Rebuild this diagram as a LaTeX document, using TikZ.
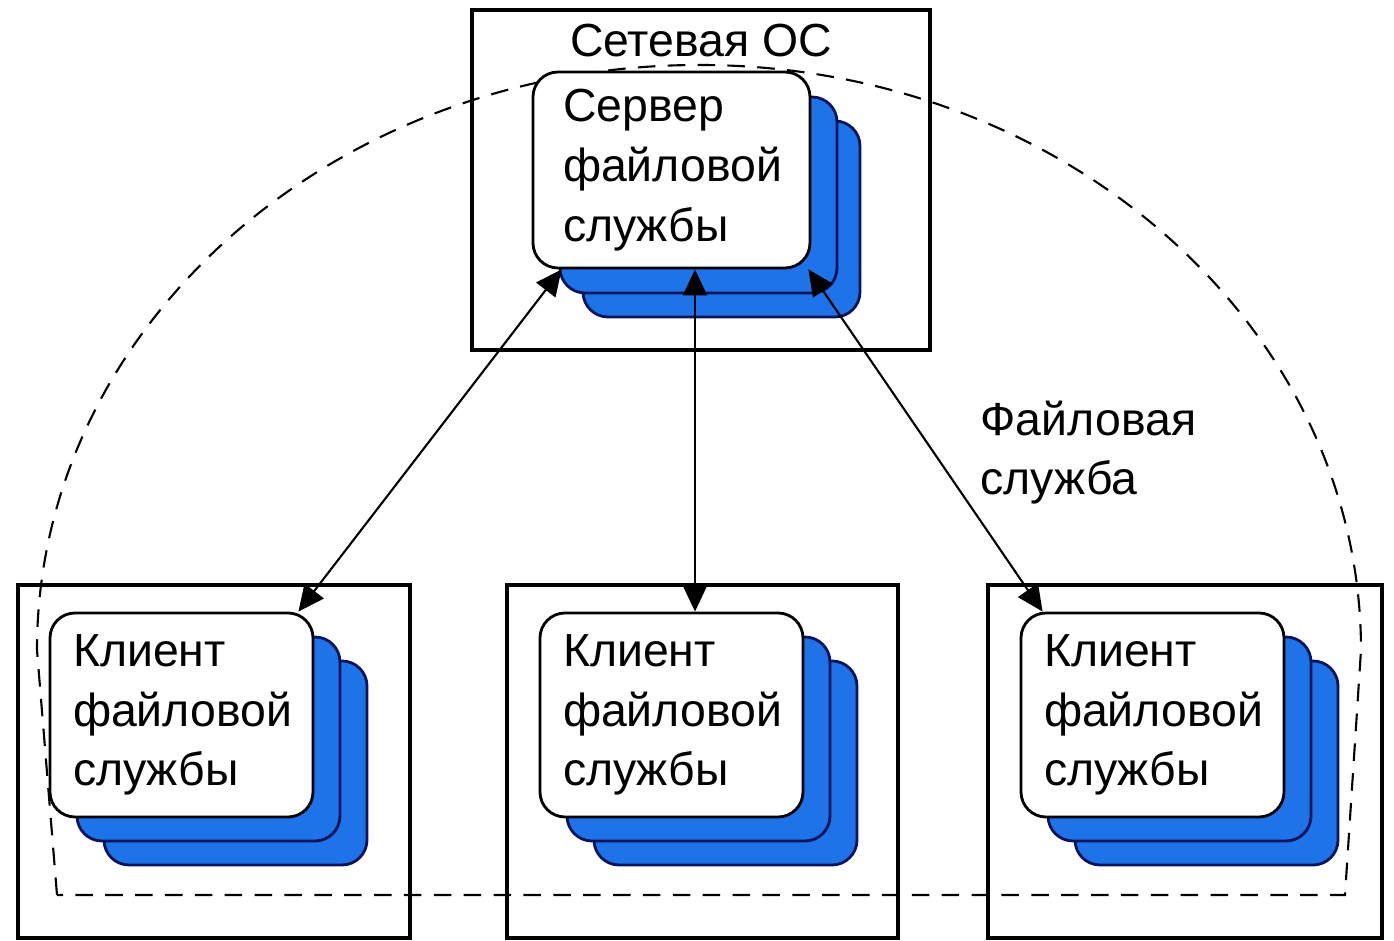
\documentclass[tikz,border=0pt]{standalone}
\usepackage{fontspec}
\setmainfont{Liberation Sans}
\usepackage{tikz}
\usetikzlibrary{arrows.meta, positioning}

\definecolor{sheetblue}{RGB}{30,115,232}
\definecolor{sheetedge}{RGB}{10,20,90}

\begin{document}
\begin{tikzpicture}[
        font=\fontsize{13.2}{17}\selectfont,
        frame/.style={rectangle, draw, line width=1pt, inner sep=0pt},
        card/.style={rectangle, draw, fill=white, rounded corners=2.5mm, line width=0.8pt,
                     minimum width=2.63cm, minimum height=2.04cm, text width=2.17cm,
                     align=left, inner sep=0pt},
        sheet/.style={rectangle, draw=sheetedge, fill=sheetblue, rounded corners=2.5mm,
                      line width=0.8pt, minimum width=2.63cm, minimum height=2.04cm},
        lbl/.style={inner sep=0pt, align=left},
        link/.style={{Triangle[length=2.6mm,width=2.4mm]}-{Triangle[length=2.6mm,width=2.4mm]},
                     line width=0.6pt},
    ]
        \useasboundingbox (0,0) rectangle (13.94,9.41);

        % dashed zone of the file service
        \draw[line width=0.6pt, dash pattern=on 5pt off 3.5pt]
            (0.57,0.46) -- (0.37,2.91) arc[start angle=180, end angle=0, x radius=6.62, y radius=5.85]
            -- (13.45,0.46) -- cycle;

        % outer frames
        \node[frame, minimum width=4.58cm, minimum height=3.40cm] (os) at (7.01,7.61) {};
        \node[frame, minimum width=3.92cm, minimum height=3.53cm] (host1) at (2.14,1.795) {};
        \node[frame, minimum width=3.91cm, minimum height=3.53cm] (host2) at (7.025,1.795) {};
        \node[frame, minimum width=3.94cm, minimum height=3.53cm] (host3) at (11.85,1.795) {};
        \node[lbl, below=0.15cm of os.north] (oslbl) {Сетевая ОС};

        % server stack
        \node[sheet, minimum width=2.77cm, minimum height=1.96cm] at (6.715+0.50,7.71-0.49) {};
        \node[sheet, minimum width=2.77cm, minimum height=1.96cm] at (6.715+0.27,7.71-0.25) {};
        \node[card, minimum width=2.77cm, minimum height=1.96cm] (srv) at (6.715,7.71) {Сервер\\файловой\\службы};

        % client stacks
        \foreach \nm/\x/\y in {cli1/1.815/2.26, cli2/6.715/2.26, cli3/11.525/2.26} {
            \node[sheet] at (\x+0.54,\y-0.48) {};
            \node[sheet] at (\x+0.27,\y-0.24) {};
            \node[card] (\nm) at (\x,\y) {Клиент\\файловой\\службы};
        }

        \node[lbl, anchor=north west] (svc) at (9.80,5.41) {Файловая\\служба};

        \draw[link] ([xshift=3mm]srv.south west) -- ([xshift=-1.6mm]cli1.north east);
        \draw[link] ([xshift=2.35mm]srv.south) -- ([xshift=2.35mm]cli2.north);
        \draw[link] ([xshift=-0.3mm]srv.south east) -- ([xshift=2.3mm]cli3.north west);
    \end{tikzpicture}
\end{document}
